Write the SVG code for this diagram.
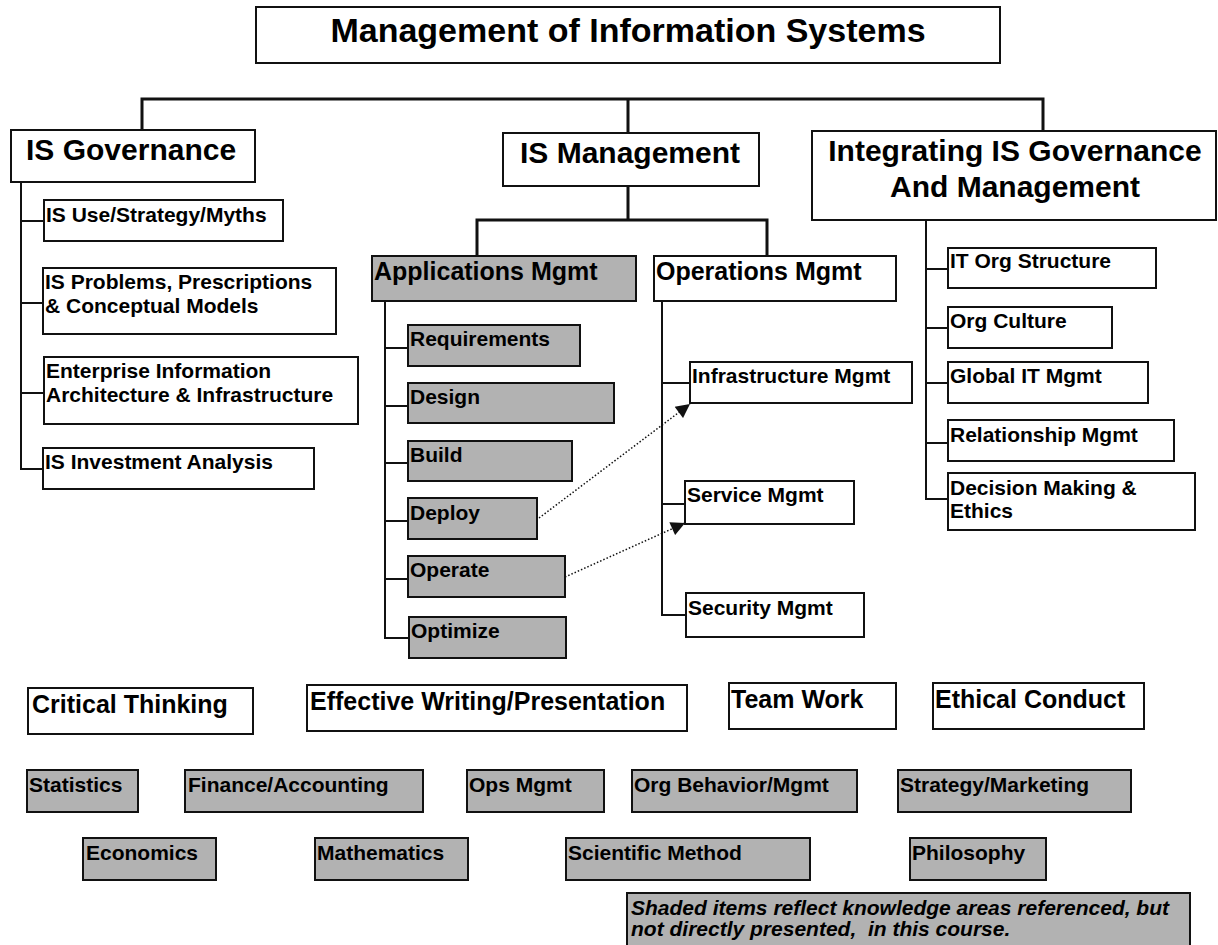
<svg xmlns="http://www.w3.org/2000/svg" width="1218" height="945" viewBox="0 0 1218 945">
<defs>
<style>
.b{fill:#fff;stroke:#111;stroke-width:2}
.g{fill:#b2b2b2;stroke:#111;stroke-width:2}
text{font-family:"Liberation Sans",Arial,Helvetica,sans-serif;font-weight:bold;fill:#000}
.t34{font-size:34px}
.t30{font-size:30px}
.t25{font-size:25px}
.t21{font-size:21px}
.it{font-size:21px;font-style:italic}
.c3{stroke:#111;stroke-width:3;fill:none}
.c2{stroke:#111;stroke-width:2;fill:none}
.dot{stroke:#111;stroke-width:1.5;stroke-dasharray:1.5 2;fill:none}
</style>
<marker id="ah" viewBox="0 0 10 10" refX="10" refY="5" markerWidth="16" markerHeight="14" markerUnits="userSpaceOnUse" orient="auto">
<path d="M0,0 L10,5 L0,10 z" fill="#111"/>
</marker>
</defs>
<rect width="1218" height="945" fill="#fff"/>

<g id="connectors">
<path class="c3" d="M142,130 V99 H1043 V131 M628,99 V133"/>
<path class="c3" d="M628,186 V220 M477,256 V220 H767 V256"/>
<path class="c2" d="M21,182 V469 H44 M21,221 H44 M21,303 H43 M21,393 H44"/>
<path class="c2" d="M385,301 V638 H408 M385,348 H408 M385,406 H408 M385,463 H408 M385,521 H408 M385,579 H408"/>
<path class="c2" d="M662,301 V615 H686 M662,383 H690 M662,504 H685"/>
<path class="c2" d="M926,220 V499 H948 M926,269 H948 M926,328 H948 M926,383 H948 M926,443 H948"/>
<path class="dot" d="M539,518 L690,404" marker-end="url(#ah)"/>
<path class="dot" d="M565,577 L685,523" marker-end="url(#ah)"/>
</g>

<g id="title"><rect class="b" x="256" y="7" width="744" height="56"/><text class="t34" x="628" y="42" text-anchor="middle">Management of Information Systems</text></g>

<g id="is-governance"><rect class="b" x="11" y="130" width="244" height="52"/><text class="t30" x="26" y="160">IS Governance</text></g>
<g id="is-management"><rect class="b" x="503" y="133" width="256" height="53"/><text class="t30" x="520" y="163">IS Management</text></g>
<g id="integrating"><rect class="b" x="812" y="131" width="404" height="89"/><text class="t30" x="1015" y="161" text-anchor="middle">Integrating IS Governance</text><text class="t30" x="1015" y="197" text-anchor="middle">And Management</text></g>

<g id="is-use"><rect class="b" x="44" y="200" width="239" height="41"/><text class="t21" x="46" y="222">IS Use/Strategy/Myths</text></g>
<g id="is-problems"><rect class="b" x="43" y="268" width="293" height="66"/><text class="t21" x="45" y="289">IS Problems, Prescriptions</text><text class="t21" x="45" y="313">&amp; Conceptual Models</text></g>
<g id="enterprise"><rect class="b" x="44" y="357" width="314" height="67"/><text class="t21" x="46" y="378">Enterprise Information</text><text class="t21" x="46" y="402">Architecture &amp; Infrastructure</text></g>
<g id="is-investment"><rect class="b" x="43" y="448" width="271" height="41"/><text class="t21" x="45" y="469">IS Investment Analysis</text></g>

<g id="applications-mgmt"><rect class="g" x="372" y="256" width="264" height="45"/><text class="t25" x="374" y="280">Applications Mgmt</text></g>
<g id="operations-mgmt"><rect class="b" x="654" y="256" width="242" height="45"/><text class="t25" x="656" y="280">Operations Mgmt</text></g>

<g id="requirements"><rect class="g" x="408" y="325" width="172" height="41"/><text class="t21" x="410" y="346">Requirements</text></g>
<g id="design"><rect class="g" x="408" y="383" width="206" height="40"/><text class="t21" x="410" y="404">Design</text></g>
<g id="build"><rect class="g" x="408" y="441" width="164" height="40"/><text class="t21" x="410" y="462">Build</text></g>
<g id="deploy"><rect class="g" x="408" y="498" width="129" height="41"/><text class="t21" x="410" y="520">Deploy</text></g>
<g id="operate"><rect class="g" x="408" y="556" width="157" height="41"/><text class="t21" x="410" y="577">Operate</text></g>
<g id="optimize"><rect class="g" x="409" y="617" width="157" height="41"/><text class="t21" x="411" y="638">Optimize</text></g>

<g id="infrastructure-mgmt"><rect class="b" x="690" y="362" width="222" height="41"/><text class="t21" x="692" y="383">Infrastructure Mgmt</text></g>
<g id="service-mgmt"><rect class="b" x="685" y="481" width="169" height="43"/><text class="t21" x="687" y="502">Service Mgmt</text></g>
<g id="security-mgmt"><rect class="b" x="686" y="593" width="178" height="44"/><text class="t21" x="688" y="615">Security Mgmt</text></g>

<g id="it-org-structure"><rect class="b" x="948" y="248" width="208" height="40"/><text class="t21" x="950" y="268">IT Org Structure</text></g>
<g id="org-culture"><rect class="b" x="948" y="307" width="164" height="41"/><text class="t21" x="950" y="328">Org Culture</text></g>
<g id="global-it-mgmt"><rect class="b" x="948" y="362" width="200" height="41"/><text class="t21" x="950" y="383">Global IT Mgmt</text></g>
<g id="relationship-mgmt"><rect class="b" x="948" y="420" width="226" height="41"/><text class="t21" x="950" y="442">Relationship Mgmt</text></g>
<g id="decision-making"><rect class="b" x="948" y="473" width="247" height="57"/><text class="t21" x="950" y="495">Decision Making &amp;</text><text class="t21" x="950" y="518">Ethics</text></g>

<g id="critical-thinking"><rect class="b" x="28" y="688" width="225" height="46"/><text class="t25" x="32" y="713">Critical Thinking</text></g>
<g id="effective-writing"><rect class="b" x="307" y="685" width="380" height="46"/><text class="t25" x="310" y="710">Effective Writing/Presentation</text></g>
<g id="team-work"><rect class="b" x="729" y="683" width="167" height="46"/><text class="t25" x="731" y="708">Team Work</text></g>
<g id="ethical-conduct"><rect class="b" x="933" y="683" width="211" height="46"/><text class="t25" x="935" y="708">Ethical Conduct</text></g>

<g id="statistics"><rect class="g" x="27" y="770" width="111" height="42"/><text class="t21" x="29" y="792">Statistics</text></g>
<g id="finance"><rect class="g" x="185" y="770" width="238" height="42"/><text class="t21" x="188" y="792">Finance/Accounting</text></g>
<g id="ops-mgmt"><rect class="g" x="467" y="770" width="137" height="42"/><text class="t21" x="469" y="792">Ops Mgmt</text></g>
<g id="org-behavior"><rect class="g" x="632" y="770" width="225" height="42"/><text class="t21" x="634" y="792">Org Behavior/Mgmt</text></g>
<g id="strategy-marketing"><rect class="g" x="898" y="770" width="233" height="42"/><text class="t21" x="900" y="792">Strategy/Marketing</text></g>

<g id="economics"><rect class="g" x="83" y="838" width="133" height="42"/><text class="t21" x="86" y="860">Economics</text></g>
<g id="mathematics"><rect class="g" x="315" y="838" width="153" height="42"/><text class="t21" x="317" y="860">Mathematics</text></g>
<g id="scientific-method"><rect class="g" x="566" y="838" width="244" height="42"/><text class="t21" x="568" y="860">Scientific Method</text></g>
<g id="philosophy"><rect class="g" x="910" y="838" width="136" height="42"/><text class="t21" x="912" y="860">Philosophy</text></g>

<g id="note"><rect class="g" x="627" y="893" width="563" height="60"/><text class="it" x="631" y="915">Shaded items reflect knowledge areas referenced, but</text><text class="it" x="631" y="936">not directly presented,&#160; in this course.</text></g>
</svg>
